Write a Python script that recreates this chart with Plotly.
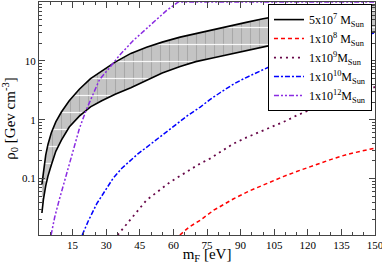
import plotly.graph_objects as go
import math

# ---- data ----
band_m = [1.3, 2, 3, 4, 5.5, 7.5, 10, 13.5, 18, 23, 28, 34, 41, 48, 55, 63, 70, 78, 86, 93, 100, 108, 118, 130, 140, 150]
band_upper = [0.08, 0.14, 0.25, 0.38, 0.6, 0.92, 1.35, 2.1, 3.3, 5.0, 6.6, 9.5, 13.4, 17, 20.8, 25.3, 29, 33.6, 39, 45.5, 52, 59, 68, 77, 84, 90]
band_lower = [0.026, 0.045, 0.075, 0.11, 0.17, 0.29, 0.45, 0.75, 1.15, 1.65, 2.1, 2.7, 3.5, 4.7, 6.2, 8.0, 9.7, 11.3, 13.2, 15, 17.3, 20, 23, 26, 28.5, 31]

m_1e8 = [62.9, 67, 71.9, 78, 86.7, 94, 101.6, 109, 116.5, 124, 131.4, 138, 146.3, 150]
rho_1e8 = [0.011, 0.015, 0.0195, 0.029, 0.045, 0.062, 0.082, 0.108, 0.138, 0.175, 0.218, 0.26, 0.31, 0.33]

m_1e9 = [35.1, 40.6, 48, 58.5, 68.9, 71.9, 76.3, 86.7, 92.7, 98.7, 110.6, 115, 125, 135, 150]
rho_1e9 = [0.011, 0.0195, 0.043, 0.087, 0.157, 0.18, 0.218, 0.39, 0.5, 0.62, 0.97, 1.18, 1.7, 2.3, 3.6]

m_1e10 = [19.3, 22, 25.8, 29, 33, 37, 40.6, 44, 48, 53, 57, 61.5, 66, 72, 76.3, 81, 86.7, 92, 97, 101.6, 109, 118, 130, 140, 150]
rho_1e10 = [0.011, 0.019, 0.0375, 0.058, 0.1, 0.15, 0.2, 0.26, 0.34, 0.48, 0.64, 0.87, 1.15, 1.64, 2.2, 2.9, 4.0, 5.1, 6.3, 7.6, 10.2, 13.5, 19, 24, 30]

m_1e12 = [5.4, 7, 9, 11, 13.5, 16, 18, 21, 23, 27, 31.7, 36, 42, 47, 52.5, 57, 62.2, 80, 100, 120, 150]
rho_1e12 = [0.011, 0.022, 0.043, 0.08, 0.157, 0.36, 0.7, 1.44, 2.2, 4.8, 7.8, 12.5, 22, 33, 52, 72, 100, 100, 100, 100, 100]

labels = ["5x10<sup>7</sup> M<sub>Sun</sub>", "1x10<sup>8</sup> M<sub>Sun</sub>",
          "1x10<sup>9</sup>M<sub>Sun</sub>", "1x10<sup>10</sup>M<sub>Sun</sub>",
          "1x10<sup>12</sup>M<sub>Sun</sub>"]

x_ticks = [15, 30, 45, 60, 75, 90, 105, 120, 135, 150]
y_ticks = [0.1, 1, 10]
y_ticktext = ["0.1", "1", "10"]

SERIF = "Liberation Serif, Times New Roman, serif"

fig = go.Figure()

# band fill with vertical hatch
fig.add_trace(go.Scatter(x=band_m, y=band_lower, mode="lines", line=dict(width=0),
                         showlegend=False, hoverinfo="skip"))
fig.add_trace(go.Scatter(x=band_m, y=band_upper, mode="lines", line=dict(width=0),
                         fill="tonexty", fillcolor="#c4c4c4",
                         fillpattern=dict(shape="|", fgcolor="#8c8c8c", bgcolor="#c4c4c4",
                                          size=9, solidity=0.12),
                         showlegend=False, hoverinfo="skip"))
# white dotted horizontal hatch
fig.add_trace(go.Scatter(x=band_m, y=band_lower, mode="lines", line=dict(width=0),
                         showlegend=False, hoverinfo="skip"))
fig.add_trace(go.Scatter(x=band_m, y=band_upper, mode="lines", line=dict(width=0),
                         fill="tonexty", fillcolor="rgba(255,255,255,0)",
                         fillpattern=dict(shape="-", fgcolor="#ffffff",
                                          bgcolor="rgba(255,255,255,0)",
                                          size=17, solidity=0.07, fgopacity=0.9),
                         showlegend=False, hoverinfo="skip"))
# band edges
fig.add_trace(go.Scatter(x=band_m, y=band_lower, mode="lines",
                         line=dict(color="black", width=1.6),
                         showlegend=False, hoverinfo="skip"))
fig.add_trace(go.Scatter(x=band_m, y=band_upper, mode="lines", legendgroup="g0",
                         line=dict(color="black", width=1.6), name=labels[0]))

fig.add_trace(go.Scatter(x=m_1e8, y=rho_1e8, mode="lines", name=labels[1], legendgroup="g1",
                         line=dict(color="#ff0000", width=1.5, dash="4px,3px")))
fig.add_trace(go.Scatter(x=m_1e9, y=rho_1e9, mode="lines", name=labels[2], legendgroup="g2",
                         line=dict(color="#670748", width=1.8, dash="2px,4px")))
fig.add_trace(go.Scatter(x=m_1e10, y=rho_1e10, mode="lines", name=labels[3], legendgroup="g3",
                         line=dict(color="#0000ff", width=1.5, dash="5px,2px,2px,2px")))
fig.add_trace(go.Scatter(x=m_1e12, y=rho_1e12, mode="lines", name=labels[4], legendgroup="g4",
                         line=dict(color="#8a2be2", width=1.5, dash="5px,2px,2px,2px,2px,2px")))

minor_y = []
for e in range(-2, 2):
    for k in range(2, 10):
        minor_y.append(k * 10 ** e)

fig.update_layout(
    width=382, height=264,
    margin=dict(l=39, r=7, t=2, b=29),
    paper_bgcolor="white", plot_bgcolor="white",
    font=dict(family=SERIF, color="black", size=11),
    showlegend=True,
    legend=dict(x=0.991, y=0.991, xanchor="right", yanchor="top",
                bgcolor="white", bordercolor="black", borderwidth=1,
                font=dict(family=SERIF, size=12), tracegroupgap=5,
                traceorder="normal", itemwidth=30),
    xaxis=dict(range=[0, 150], tickvals=x_ticks, ticks="inside", ticklen=6,
               tickcolor="#444", showline=True, linecolor="#444", linewidth=1.2,
               mirror="ticks", showgrid=False, zeroline=False, automargin=False,
               ticklabeloverflow="allow",
               tickfont=dict(family=SERIF, size=11),
               minor=dict(tickvals=[v for v in range(5, 150, 5) if v % 15 != 0],
                          ticks="inside", ticklen=3, tickcolor="#444"),
               title=dict(text="m<sub>F</sub> [eV]", font=dict(family=SERIF, size=15),
                          standoff=0)),
    yaxis=dict(type="log", range=[math.log10(0.011), 2.0], tickvals=y_ticks,
               ticktext=y_ticktext, ticks="inside", ticklen=6, tickcolor="#444",
               showline=True, linecolor="#444", linewidth=1.2, mirror="ticks",
               showgrid=False, zeroline=False, automargin=False,
               tickfont=dict(family=SERIF, size=11),
               minor=dict(tickvals=minor_y, ticks="inside", ticklen=3, tickcolor="#444"),
               title=dict(text="ρ<sub>0</sub> [Gev cm<sup>-3</sup>]",
                          font=dict(family=SERIF, size=15), standoff=2)),
)

fig.write_html("out.html", config={"displayModeBar": False},
               post_script="document.body.style.margin='0px';document.body.style.overflow='hidden';")
